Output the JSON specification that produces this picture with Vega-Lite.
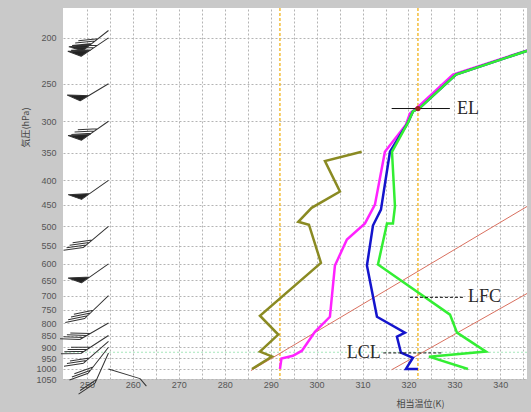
{
  "$schema": "https://vega.github.io/schema/vega-lite/v6.json",
  "width": 464,
  "height": 371,
  "autosize": {"type": "none"},
  "padding": {"left": 63, "top": 8, "right": 4, "bottom": 33},
  "background": "#c9c9c9",
  "config": {
    "view": {"fill": "#ffffff", "stroke": null},
    "font": "Liberation Sans",
    "axis": {"grid": true, "gridColor": "#b4b4b4", "gridDash": [2, 2], "gridWidth": 1, "ticks": false, "domain": false,
      "labelFontSize": 9, "labelColor": "#555555", "labelOverlap": false,
      "titleFont": "Noto Sans CJK JP", "titleFontSize": 9, "titleFontWeight": "normal", "titleColor": "#444444",
      "titleAlign": "center", "titleBaseline": "middle"},
    "axisX": {"labelPadding": 1, "labelBaseline": "top", "titleX": 357, "titleY": 24},
    "axisY": {"labelPadding": 7, "titleX": -38, "titleY": 119}
  },
  "datasets": {
    "profile": [
      {"s": "olive", "i": 1, "K": 285.93, "p": 1000},
      {"s": "olive", "i": 2, "K": 290.28, "p": 941},
      {"s": "olive", "i": 3, "K": 287.67, "p": 919},
      {"s": "olive", "i": 4, "K": 291.65, "p": 846},
      {"s": "olive", "i": 5, "K": 287.67, "p": 772},
      {"s": "olive", "i": 6, "K": 300.95, "p": 597},
      {"s": "olive", "i": 7, "K": 298.34, "p": 496},
      {"s": "olive", "i": 8, "K": 296.01, "p": 489},
      {"s": "olive", "i": 9, "K": 298.92, "p": 457},
      {"s": "olive", "i": 10, "K": 305.08, "p": 422},
      {"s": "olive", "i": 11, "K": 301.82, "p": 364},
      {"s": "olive", "i": 12, "K": 309.81, "p": 348},
      {"s": "magenta", "i": 1, "K": 292.02, "p": 1000},
      {"s": "magenta", "i": 2, "K": 292.35, "p": 951},
      {"s": "magenta", "i": 3, "K": 294.85, "p": 938},
      {"s": "magenta", "i": 4, "K": 296.81, "p": 915},
      {"s": "magenta", "i": 5, "K": 299.64, "p": 835},
      {"s": "magenta", "i": 6, "K": 302.9, "p": 776},
      {"s": "magenta", "i": 7, "K": 303.99, "p": 605},
      {"s": "magenta", "i": 8, "K": 306.6, "p": 533},
      {"s": "magenta", "i": 9, "K": 310.53, "p": 493},
      {"s": "magenta", "i": 10, "K": 312.7, "p": 450},
      {"s": "magenta", "i": 11, "K": 314.87, "p": 348},
      {"s": "magenta", "i": 12, "K": 319.45, "p": 305},
      {"s": "magenta", "i": 13, "K": 320.32, "p": 289},
      {"s": "magenta", "i": 14, "K": 321.84, "p": 281},
      {"s": "magenta", "i": 15, "K": 329.68, "p": 239},
      {"s": "magenta", "i": 16, "K": 354.28, "p": 200},
      {"s": "blue", "i": 1, "K": 322.06, "p": 1000},
      {"s": "blue", "i": 2, "K": 319.45, "p": 1000},
      {"s": "blue", "i": 3, "K": 320.97, "p": 947},
      {"s": "blue", "i": 4, "K": 318.36, "p": 924},
      {"s": "blue", "i": 5, "K": 317.49, "p": 855},
      {"s": "blue", "i": 6, "K": 319.23, "p": 838},
      {"s": "blue", "i": 7, "K": 313.14, "p": 776},
      {"s": "blue", "i": 8, "K": 310.96, "p": 605},
      {"s": "blue", "i": 9, "K": 312.27, "p": 498},
      {"s": "blue", "i": 10, "K": 314.01, "p": 461},
      {"s": "blue", "i": 11, "K": 315.97, "p": 348},
      {"s": "blue", "i": 12, "K": 319.88, "p": 302},
      {"s": "blue", "i": 13, "K": 320.97, "p": 286},
      {"s": "blue", "i": 14, "K": 322.49, "p": 281},
      {"s": "blue", "i": 15, "K": 330.33, "p": 239},
      {"s": "blue", "i": 16, "K": 354.28, "p": 200},
      {"s": "green", "i": 1, "K": 332.95, "p": 1000},
      {"s": "green", "i": 2, "K": 324.46, "p": 942},
      {"s": "green", "i": 3, "K": 336.87, "p": 919},
      {"s": "green", "i": 4, "K": 330.56, "p": 838},
      {"s": "green", "i": 5, "K": 329.04, "p": 768},
      {"s": "green", "i": 6, "K": 313.36, "p": 602},
      {"s": "green", "i": 7, "K": 315.32, "p": 493},
      {"s": "green", "i": 8, "K": 316.62, "p": 493},
      {"s": "green", "i": 9, "K": 317.06, "p": 454},
      {"s": "green", "i": 10, "K": 316.41, "p": 348},
      {"s": "green", "i": 11, "K": 319.88, "p": 302},
      {"s": "green", "i": 12, "K": 320.97, "p": 286},
      {"s": "green", "i": 13, "K": 322.49, "p": 281},
      {"s": "green", "i": 14, "K": 330.33, "p": 239},
      {"s": "green", "i": 15, "K": 354.28, "p": 200}
    ],
    "redlines": [
      {"s": "a", "i": 1, "K": 285.71, "p": 1008},
      {"s": "a", "i": 2, "K": 345.8, "p": 454},
      {"s": "b", "i": 1, "K": 316.34, "p": 1004},
      {"s": "b", "i": 2, "K": 345.8, "p": 693}
    ],
    "vlines": [{"K": 292.02}, {"K": 322.06}],
    "hline": [{"p": 922}],
    "levels": [
      {"name": "EL", "p": 282, "K1": 316.34, "K2": 329.01, "Kt": 330.55},
      {"name": "LFC", "p": 706, "K1": 320.32, "K2": 331.92, "Kt": 332.95},
      {"name": "LCL", "p": 925, "K1": 314.51, "K2": 327.57, "Kt": 306.54}
    ],
    "el": [{"K": 322.06, "p": 282}],
    "barbs": [
      {"p": 193, "dir": 232, "barb": "pf"},
      {"p": 200, "dir": 236, "barb": "pf"},
      {"p": 250, "dir": 239, "barb": "p"},
      {"p": 300, "dir": 235, "barb": "pf"},
      {"p": 400, "dir": 235, "barb": "p"},
      {"p": 500, "dir": 230, "barb": "f4"},
      {"p": 600, "dir": 235, "barb": "p"},
      {"p": 700, "dir": 226, "barb": "f4"},
      {"p": 800, "dir": 240, "barb": "f4"},
      {"p": 850, "dir": 237, "barb": "f4"},
      {"p": 875, "dir": 229, "barb": "f3"},
      {"p": 900, "dir": 218, "barb": "f3"},
      {"p": 925, "dir": 204, "barb": "f2"},
      {"p": 1000, "dir": 107, "barb": "h1"}
    ]
  },
  "layer": [
    {
      "data": {"name": "vlines"},
      "mark": {"type": "rule", "color": "#f3bd3a", "strokeWidth": 1.5, "strokeDash": [3, 2]},
      "encoding": {
        "x": {"field": "K", "type": "quantitative", "scale": {"type": "linear", "domain": [244.8, 345.8], "nice": false, "zero": false},
          "axis": {"values": [250, 255, 260, 265, 270, 275, 280, 285, 290, 295, 300, 305, 310, 315, 320, 325, 330, 335, 340, 345], "labelExpr": "datum.value % 10 === 0 ? datum.label : ''", "title": "相当温位(K)"}}
      }
    },
    {
      "data": {"name": "hline"},
      "mark": {"type": "rule", "color": "#a6e8bc", "strokeWidth": 1.2, "strokeDash": [2, 2]},
      "encoding": {
        "y": {"field": "p", "type": "quantitative", "scale": {"type": "log", "domain": [173, 1050], "reverse": true, "nice": false},
          "axis": {"values": [200, 250, 300, 350, 400, 450, 500, 550, 600, 650, 700, 750, 800, 850, 900, 950, 1000, 1050], "format": "d", "title": "気圧(hPa)"}}
      }
    },
    {
      "data": {"name": "redlines"},
      "mark": {"type": "line", "color": "#d9705f", "strokeWidth": 1, "clip": true},
      "encoding": {
        "x": {"field": "K", "type": "quantitative", "scale": {"type": "linear", "domain": [244.8, 345.8], "nice": false, "zero": false},
          "axis": {"values": [250, 255, 260, 265, 270, 275, 280, 285, 290, 295, 300, 305, 310, 315, 320, 325, 330, 335, 340, 345], "labelExpr": "datum.value % 10 === 0 ? datum.label : ''", "title": "相当温位(K)"}},
        "y": {"field": "p", "type": "quantitative", "scale": {"type": "log", "domain": [173, 1050], "reverse": true, "nice": false},
          "axis": {"values": [200, 250, 300, 350, 400, 450, 500, 550, 600, 650, 700, 750, 800, 850, 900, 950, 1000, 1050], "format": "d", "title": "気圧(hPa)"}},
        "detail": {"field": "s"},
        "order": {"field": "i", "type": "quantitative"}
      }
    },
    {
      "data": {"name": "profile"},
      "transform": [{"filter": "datum.s === 'olive'"}],
      "mark": {"type": "line", "color": "#8a8a22", "strokeWidth": 2.5, "clip": true},
      "encoding": {
        "x": {"field": "K", "type": "quantitative", "scale": {"type": "linear", "domain": [244.8, 345.8], "nice": false, "zero": false},
          "axis": {"values": [250, 255, 260, 265, 270, 275, 280, 285, 290, 295, 300, 305, 310, 315, 320, 325, 330, 335, 340, 345], "labelExpr": "datum.value % 10 === 0 ? datum.label : ''", "title": "相当温位(K)"}},
        "y": {"field": "p", "type": "quantitative", "scale": {"type": "log", "domain": [173, 1050], "reverse": true, "nice": false},
          "axis": {"values": [200, 250, 300, 350, 400, 450, 500, 550, 600, 650, 700, 750, 800, 850, 900, 950, 1000, 1050], "format": "d", "title": "気圧(hPa)"}},
        "order": {"field": "i", "type": "quantitative"}
      }
    },
    {
      "data": {"name": "profile"},
      "transform": [{"filter": "datum.s === 'magenta'"}],
      "mark": {"type": "line", "color": "#ff22ff", "strokeWidth": 2.5, "clip": true},
      "encoding": {
        "x": {"field": "K", "type": "quantitative", "scale": {"type": "linear", "domain": [244.8, 345.8], "nice": false, "zero": false},
          "axis": {"values": [250, 255, 260, 265, 270, 275, 280, 285, 290, 295, 300, 305, 310, 315, 320, 325, 330, 335, 340, 345], "labelExpr": "datum.value % 10 === 0 ? datum.label : ''", "title": "相当温位(K)"}},
        "y": {"field": "p", "type": "quantitative", "scale": {"type": "log", "domain": [173, 1050], "reverse": true, "nice": false},
          "axis": {"values": [200, 250, 300, 350, 400, 450, 500, 550, 600, 650, 700, 750, 800, 850, 900, 950, 1000, 1050], "format": "d", "title": "気圧(hPa)"}},
        "order": {"field": "i", "type": "quantitative"}
      }
    },
    {
      "data": {"name": "profile"},
      "transform": [{"filter": "datum.s === 'blue'"}],
      "mark": {"type": "line", "color": "#1414cc", "strokeWidth": 2.5, "clip": true},
      "encoding": {
        "x": {"field": "K", "type": "quantitative", "scale": {"type": "linear", "domain": [244.8, 345.8], "nice": false, "zero": false},
          "axis": {"values": [250, 255, 260, 265, 270, 275, 280, 285, 290, 295, 300, 305, 310, 315, 320, 325, 330, 335, 340, 345], "labelExpr": "datum.value % 10 === 0 ? datum.label : ''", "title": "相当温位(K)"}},
        "y": {"field": "p", "type": "quantitative", "scale": {"type": "log", "domain": [173, 1050], "reverse": true, "nice": false},
          "axis": {"values": [200, 250, 300, 350, 400, 450, 500, 550, 600, 650, 700, 750, 800, 850, 900, 950, 1000, 1050], "format": "d", "title": "気圧(hPa)"}},
        "order": {"field": "i", "type": "quantitative"}
      }
    },
    {
      "data": {"name": "profile"},
      "transform": [{"filter": "datum.s === 'green'"}],
      "mark": {"type": "line", "color": "#33ee33", "strokeWidth": 2.5, "clip": true},
      "encoding": {
        "x": {"field": "K", "type": "quantitative", "scale": {"type": "linear", "domain": [244.8, 345.8], "nice": false, "zero": false},
          "axis": {"values": [250, 255, 260, 265, 270, 275, 280, 285, 290, 295, 300, 305, 310, 315, 320, 325, 330, 335, 340, 345], "labelExpr": "datum.value % 10 === 0 ? datum.label : ''", "title": "相当温位(K)"}},
        "y": {"field": "p", "type": "quantitative", "scale": {"type": "log", "domain": [173, 1050], "reverse": true, "nice": false},
          "axis": {"values": [200, 250, 300, 350, 400, 450, 500, 550, 600, 650, 700, 750, 800, 850, 900, 950, 1000, 1050], "format": "d", "title": "気圧(hPa)"}},
        "order": {"field": "i", "type": "quantitative"}
      }
    },
    {
      "data": {"name": "levels"},
      "transform": [{"filter": "datum.name === 'EL'"}],
      "mark": {"type": "rule", "color": "#111111", "strokeWidth": 1},
      "encoding": {
        "x": {"field": "K1", "type": "quantitative", "scale": {"type": "linear", "domain": [244.8, 345.8], "nice": false, "zero": false},
          "axis": {"values": [250, 255, 260, 265, 270, 275, 280, 285, 290, 295, 300, 305, 310, 315, 320, 325, 330, 335, 340, 345], "labelExpr": "datum.value % 10 === 0 ? datum.label : ''", "title": "相当温位(K)"}},
        "x2": {"field": "K2"},
        "y": {"field": "p", "type": "quantitative", "scale": {"type": "log", "domain": [173, 1050], "reverse": true, "nice": false},
          "axis": {"values": [200, 250, 300, 350, 400, 450, 500, 550, 600, 650, 700, 750, 800, 850, 900, 950, 1000, 1050], "format": "d", "title": "気圧(hPa)"}}
      }
    },
    {
      "data": {"name": "levels"},
      "transform": [{"filter": "datum.name !== 'EL'"}],
      "mark": {"type": "rule", "color": "#111111", "strokeWidth": 1, "strokeDash": [3, 2]},
      "encoding": {
        "x": {"field": "K1", "type": "quantitative", "scale": {"type": "linear", "domain": [244.8, 345.8], "nice": false, "zero": false},
          "axis": {"values": [250, 255, 260, 265, 270, 275, 280, 285, 290, 295, 300, 305, 310, 315, 320, 325, 330, 335, 340, 345], "labelExpr": "datum.value % 10 === 0 ? datum.label : ''", "title": "相当温位(K)"}},
        "x2": {"field": "K2"},
        "y": {"field": "p", "type": "quantitative", "scale": {"type": "log", "domain": [173, 1050], "reverse": true, "nice": false},
          "axis": {"values": [200, 250, 300, 350, 400, 450, 500, 550, 600, 650, 700, 750, 800, 850, 900, 950, 1000, 1050], "format": "d", "title": "気圧(hPa)"}}
      }
    },
    {
      "data": {"name": "levels"},
      "mark": {"type": "text", "font": "Liberation Serif", "fontSize": 18, "color": "#2a2a2a", "align": "left", "baseline": "middle"},
      "encoding": {
        "x": {"field": "Kt", "type": "quantitative", "scale": {"type": "linear", "domain": [244.8, 345.8], "nice": false, "zero": false},
          "axis": {"values": [250, 255, 260, 265, 270, 275, 280, 285, 290, 295, 300, 305, 310, 315, 320, 325, 330, 335, 340, 345], "labelExpr": "datum.value % 10 === 0 ? datum.label : ''", "title": "相当温位(K)"}},
        "y": {"field": "p", "type": "quantitative", "scale": {"type": "log", "domain": [173, 1050], "reverse": true, "nice": false},
          "axis": {"values": [200, 250, 300, 350, 400, 450, 500, 550, 600, 650, 700, 750, 800, 850, 900, 950, 1000, 1050], "format": "d", "title": "気圧(hPa)"}},
        "text": {"field": "name"}
      }
    },
    {
      "data": {"name": "el"},
      "mark": {"type": "point", "filled": true, "color": "#9a1f1f", "size": 28, "opacity": 1},
      "encoding": {
        "x": {"field": "K", "type": "quantitative", "scale": {"type": "linear", "domain": [244.8, 345.8], "nice": false, "zero": false},
          "axis": {"values": [250, 255, 260, 265, 270, 275, 280, 285, 290, 295, 300, 305, 310, 315, 320, 325, 330, 335, 340, 345], "labelExpr": "datum.value % 10 === 0 ? datum.label : ''", "title": "相当温位(K)"}},
        "y": {"field": "p", "type": "quantitative", "scale": {"type": "log", "domain": [173, 1050], "reverse": true, "nice": false},
          "axis": {"values": [200, 250, 300, 350, 400, 450, 500, 550, 600, 650, 700, 750, 800, 850, 900, 950, 1000, 1050], "format": "d", "title": "気圧(hPa)"}}
      }
    },
    {
      "data": {"name": "barbs"},
      "mark": {"type": "point", "filled": true, "fill": "#222222", "stroke": "#333333", "strokeWidth": 1, "opacity": 1, "size": 4356},
      "encoding": {
        "x": {"datum": 254.7, "type": "quantitative", "scale": {"type": "linear", "domain": [244.8, 345.8], "nice": false, "zero": false},
          "axis": {"values": [250, 255, 260, 265, 270, 275, 280, 285, 290, 295, 300, 305, 310, 315, 320, 325, 330, 335, 340, 345], "labelExpr": "datum.value % 10 === 0 ? datum.label : ''", "title": "相当温位(K)"}},
        "y": {"field": "p", "type": "quantitative", "scale": {"type": "log", "domain": [173, 1050], "reverse": true, "nice": false},
          "axis": {"values": [200, 250, 300, 350, 400, 450, 500, 550, 600, 650, 700, 750, 800, 850, 900, 950, 1000, 1050], "format": "d", "title": "気圧(hPa)"}},
        "angle": {"field": "dir", "type": "quantitative", "scale": {"domain": [0, 360], "range": [0, 360]}},
        "shape": {"field": "barb", "type": "nominal", "legend": null,
          "scale": {"domain": ["pf", "p", "f4", "f3", "f2", "h1"],
            "range": [
              "M0,0L0,-1M0,-1L0.35,-1.25L0,-0.7ZM0,-0.64L0.32,-1.15M0,-0.52L0.32,-1.03M0,-0.4L0.32,-0.91",
              "M0,0L0,-1M0,-1L0.35,-1.25L0,-0.7Z",
              "M0,0L0,-1M0,-1L0.32,-1.51M0,-0.88L0.32,-1.39M0,-0.76L0.32,-1.27M0,-0.64L0.32,-1.15",
              "M0,0L0,-1M0,-1L0.32,-1.51M0,-0.88L0.32,-1.39M0,-0.76L0.32,-1.27",
              "M0,0L0,-1M0,-1L0.32,-1.51M0,-0.88L0.32,-1.39",
              "M0,0L0,-1M0,-1L0.16,-1.25"
            ]}}
      }
    }
  ]
}
